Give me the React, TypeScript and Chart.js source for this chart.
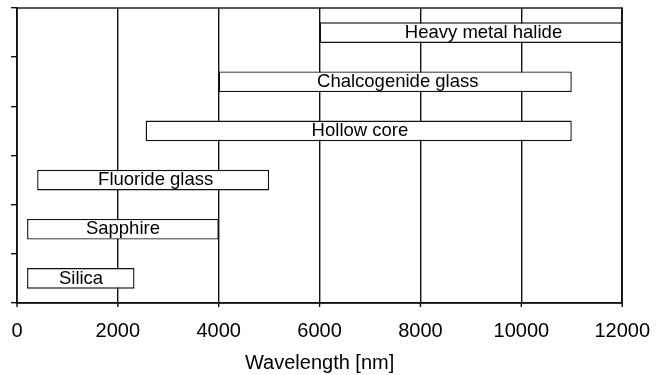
import React, { useEffect, useRef } from "react";
import { Chart, registerables } from "chart.js";

Chart.register(...registerables);

const categories = [
  "Heavy metal halide",
  "Chalcogenide glass",
  "Hollow core",
  "Fluoride glass",
  "Sapphire",
  "Silica",
];
const rangeStart = [6000, 4000, 2550, 400, 200, 200];
const rangeEnd = [12000, 11000, 11000, 5000, 4000, 2330];
const labelAt = [9250, 7550, 6800, 2750, 2100, 1270];
const xTicks = [0, 2000, 4000, 6000, 8000, 10000, 12000];
const xTitle = "Wavelength [nm]";

const FONT = "'Liberation Sans', Arial, Helvetica, sans-serif";
const INK = "#111111";

export default function App() {
  const ref = useRef<HTMLCanvasElement | null>(null);

  useEffect(() => {
    if (!ref.current) return;
    Chart.defaults.font.family = FONT;

    const frame = {
      id: "frame",
      afterDraw(chart: any) {
        const { ctx, chartArea: a } = chart;
        const xs = chart.scales.x;
        ctx.save();
        ctx.strokeStyle = INK;
        ctx.lineWidth = 1.4;
        ctx.strokeRect(a.left, a.top, a.right - a.left, a.bottom - a.top);
        ctx.beginPath();
        xTicks.forEach((v) => {
          const px = xs.getPixelForValue(v);
          ctx.moveTo(px, a.bottom);
          ctx.lineTo(px, a.bottom + 4);
        });
        ctx.stroke();
        ctx.restore();
      },
    };

    const barLabels = {
      id: "barLabels",
      afterDatasetsDraw(chart: any) {
        const { ctx } = chart;
        const meta = chart.getDatasetMeta(0);
        const xs = chart.scales.x;
        ctx.save();
        ctx.fillStyle = "#000";
        ctx.font = `18.5px ${FONT}`;
        ctx.textAlign = "center";
        ctx.textBaseline = "middle";
        meta.data.forEach((bar: any, i: number) => {
          ctx.fillText(categories[i], xs.getPixelForValue(labelAt[i]), bar.y);
        });
        ctx.restore();
      },
    };

    const chart = new Chart(ref.current, {
      type: "bar",
      data: {
        labels: categories,
        datasets: [
          {
            data: rangeStart.map((s, i) => [s, rangeEnd[i]]) as any,
            backgroundColor: "#ffffff",
            borderColor: INK,
            borderWidth: 1.4,
            borderSkipped: false,
            barPercentage: 1,
            categoryPercentage: 0.42,
          },
        ],
      },
      options: {
        indexAxis: "y",
        animation: false,
        responsive: false,
        layout: { padding: { left: 11, right: 30, top: 8, bottom: 0 } },
        plugins: { legend: { display: false }, tooltip: { enabled: false } },
        scales: {
          x: {
            type: "linear",
            min: xTicks[0],
            max: xTicks[xTicks.length - 1],
            afterBuildTicks: (scale: any) => {
              scale.ticks = xTicks.map((v) => ({ value: v }));
            },
            ticks: {
              callback: (v: any) => String(v),
              font: { size: 20 },
              color: "#000",
              padding: 8,
              maxRotation: 0,
            },
            grid: { color: INK, lineWidth: 1.4, tickLength: 8, tickColor: "rgba(0,0,0,0)" },
            border: { display: true, color: INK, width: 1.4 },
            title: {
              display: true,
              text: xTitle,
              font: { size: 20 },
              color: "#000",
              padding: { top: 0, bottom: 0 },
            },
          },
          y: {
            type: "category",
            offset: true,
            grid: {
              offset: true,
              drawOnChartArea: false,
              tickLength: 6,
              color: INK,
              lineWidth: 1.4,
            },
            ticks: { display: false },
            border: { display: true, color: INK, width: 1.4 },
          },
        },
      },
      plugins: [frame, barLabels],
    });
    return () => chart.destroy();
  }, []);

  return (
    <div style={{ position: "absolute", left: 0, top: 0, width: 658, height: 375, background: "#fff" }}>
      <canvas ref={ref} width={658} height={375} />
    </div>
  );
}
